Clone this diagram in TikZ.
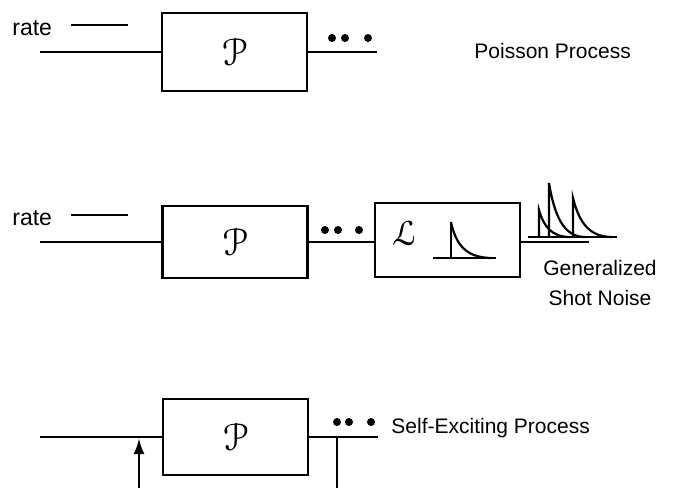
\documentclass[tikz,border=0pt]{standalone}
\usepackage{fontspec}
\setmainfont{Liberation Sans}
\usepackage[mathscr]{eucal}
\usetikzlibrary{arrows.meta}

\begin{document}
\begin{tikzpicture}[x=1pt,y=-1pt,line width=2.8pt]
	\tikzset{proc/.style={draw,minimum width=145pt,inner sep=0pt},
		lbl/.style={inner sep=0pt,font=\fontsize{21}{29}\selectfont},
		dot/.style={circle,fill,inner sep=0pt,minimum size=8pt}}
	\useasboundingbox (0,0) rectangle (676,488);
	% Poisson process
	\node[lbl,anchor=base west,font=\fontsize{23}{29}\selectfont] (rate1) at (11,35) {rate};
	\coordinate (r1a) at (71,25);
	\coordinate (r1b) at (128,25);
	\node[proc,minimum height=78pt] (p1) at (234.5,52) {\resizebox*{!}{27pt}{$\mathscr{P}$}};
	\coordinate (in1) at (40,52);
	\coordinate (out1) at (377,52);
	\foreach \x [count=\i] in {332,345,368}
		\node[dot] (d1\i) at (\x,38) {};
	\node[lbl,anchor=base west] (name1) at (473,58) {Poisson Process};
	\draw (r1a) -- (r1b);
	\draw (in1) -- (p1.west);
	\draw (p1.east) -- (out1);
	% shot noise
	\node[lbl,anchor=base west,font=\fontsize{23}{29}\selectfont] (rate2) at (11,225) {rate};
	\coordinate (r2a) at (71,215);
	\coordinate (r2b) at (128,215);
	\node[proc,minimum height=72pt] (p2) at (235,242) {\resizebox*{!}{27pt}{$\mathscr{P}$}};
	\node[proc,minimum height=74pt] (filt) at (447.5,240) {};
	\node (lsym) at (405,233) {\resizebox*{!}{25pt}{$\mathscr{L}$}};
	\coordinate (in2) at (40,242);
	\coordinate (out2) at (589,242);
	\foreach \x [count=\i] in {325,338,359}
		\node[dot] (d2\i) at (\x,230) {};
	\node[lbl,align=center,anchor=base] (name2) at (600,305) {Generalized\\[1pt]Shot Noise};
	\draw (r2a) -- (r2b);
	\draw (in2) -- (p2.west);
	\draw (p2.east) -- (p2.east -| filt.west);
	\draw (filt.east |- out2) -- (out2);
	% impulse response
	\draw (433,258) -- (496,258);
	\draw (451,258) -- (451,222);
	\draw[line width=2.2pt] (451,222) .. controls (456,245) and (466,257) .. (490,258);
	% pulse train
	\draw (528,237) -- (617,237);
	\foreach \x/\t/\e in {539/210/570,549/183/585,573/198/612}
		\draw (\x,237) -- (\x,\t) [line width=2.2pt] .. controls ({\x+0.15*(\e-\x)},{\t+0.6*(237-\t)}) and ({\x+0.4*(\e-\x)},237) .. (\e,237);
	% self-exciting process
	\node[proc,minimum height=76pt] (p3) at (235.5,437) {\resizebox*{!}{27pt}{$\mathscr{P}$}};
	\coordinate (in3) at (40,437);
	\coordinate (out3) at (378,437);
	\coordinate (fb) at (337,437);
	\coordinate (fbb) at (337,488);
	\coordinate (ar) at (139,488);
	\coordinate (art) at (139,438);
	\foreach \x [count=\i] in {337,349,371}
		\node[dot] (d3\i) at (\x,422) {};
	\node[lbl,anchor=base west] (name3) at (390,433) {Self-Exciting Process};
	\draw (in3) -- (p3.west);
	\draw (p3.east) -- (out3);
	\draw (fb) -- (fbb);
	\draw[-{Latex[length=16pt,width=11pt]}] (ar) -- (art);
\end{tikzpicture}
\end{document}
